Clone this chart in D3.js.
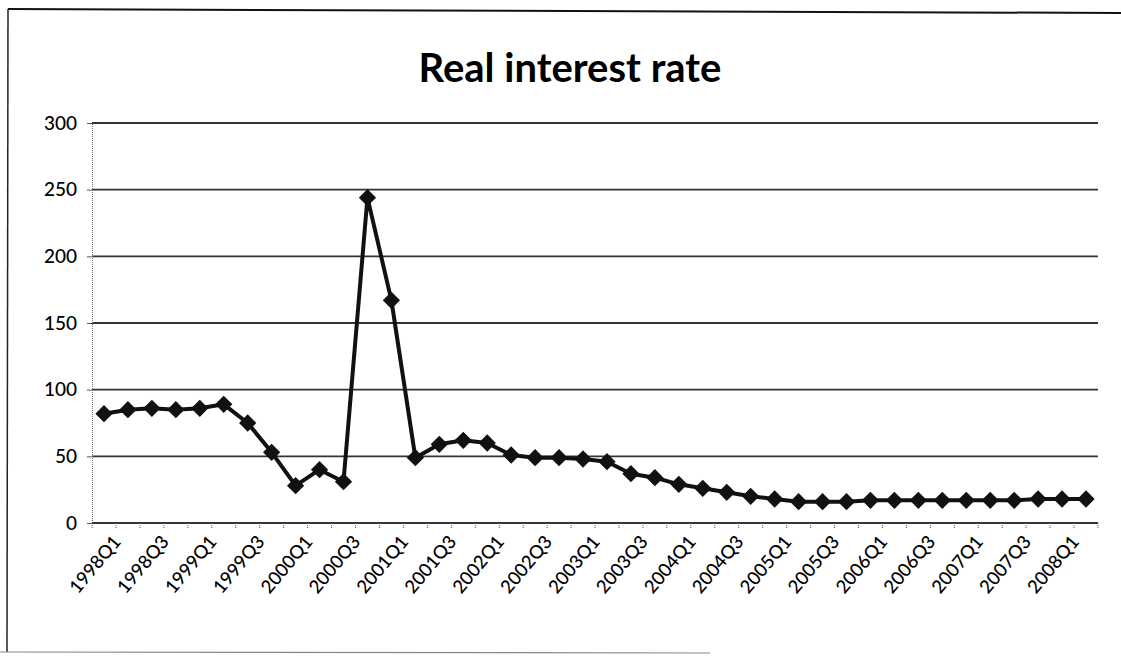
<!DOCTYPE html>
<html>
<head>
<meta charset="utf-8">
<script src="https://cdn.jsdelivr.net/npm/d3@7"></script>
<style>
  body { margin: 0; background: #fff; }
  svg { display: block; }
</style>
</head>
<body>
<script>
// quarterly categories 1998Q1 .. 2008Q2
var quarters = [
  "1998Q1","1998Q2","1998Q3","1998Q4",
  "1999Q1","1999Q2","1999Q3","1999Q4",
  "2000Q1","2000Q2","2000Q3","2000Q4",
  "2001Q1","2001Q2","2001Q3","2001Q4",
  "2002Q1","2002Q2","2002Q3","2002Q4",
  "2003Q1","2003Q2","2003Q3","2003Q4",
  "2004Q1","2004Q2","2004Q3","2004Q4",
  "2005Q1","2005Q2","2005Q3","2005Q4",
  "2006Q1","2006Q2","2006Q3","2006Q4",
  "2007Q1","2007Q2","2007Q3","2007Q4",
  "2008Q1","2008Q2"
];

// values
var rates = [
  82, 85, 86, 85,
  86, 89, 75, 53,
  28, 40, 31, 244,
  167, 49, 59, 62,
  60, 51, 49, 49,
  48, 46, 37, 34,
  29, 26, 23, 20,
  18, 16, 16, 16,
  17, 17, 17, 17,
  17, 17, 17, 18,
  18, 18
];

var yTicks = [0, 50, 100, 150, 200, 250, 300];
var title = "Real interest rate";

var W = 1121, H = 659;
var margin = {top: 123, right: 23, bottom: 136, left: 92},
    width = W - margin.left - margin.right,
    height = H - margin.top - margin.bottom;

var svg = d3.select("body").append("svg")
    .attr("width", W)
    .attr("height", H);

// outer frame
svg.append("line").attr("x1", 8).attr("y1", 9).attr("x2", W).attr("y2", 13)
    .attr("stroke", "#111").attr("stroke-width", 2);
svg.append("line").attr("x1", 8).attr("y1", 9).attr("x2", 7).attr("y2", 652)
    .attr("stroke", "#222").attr("stroke-width", 1.5);
svg.append("line").attr("x1", 0).attr("y1", 652).attr("x2", 710).attr("y2", 653)
    .attr("stroke", "#888").attr("stroke-width", 1.2);

svg.append("text")
    .attr("x", 570)
    .attr("y", 82)
    .attr("text-anchor", "middle")
    .style("font-family", "Lato, 'Open Sans', sans-serif")
    .style("font-weight", "bold")
    .style("font-size", "40px")
    .style("fill", "#000")
    .text(title);

var g = svg.append("g")
    .attr("transform", "translate(" + margin.left + "," + margin.top + ")");

var x = d3.scaleBand().domain(quarters).range([0, width]);
var y = d3.scaleLinear().domain([0, 300]).range([height, 0]);

// horizontal gridlines
g.selectAll(".grid").data(yTicks.slice(1)).enter().append("line")
    .attr("class", "grid")
    .attr("x1", 0).attr("x2", width)
    .attr("y1", function (d) { return y(d); })
    .attr("y2", function (d) { return y(d); })
    .attr("stroke", "#333")
    .attr("stroke-width", 1.8);

// y axis
var yAxis = g.append("g")
    .call(d3.axisLeft(y).tickValues(yTicks).tickSize(5).tickPadding(10));
yAxis.select(".domain").attr("stroke", "#777").attr("stroke-dasharray", "1,1");
yAxis.selectAll(".tick line").attr("stroke", "#555");
yAxis.selectAll("text")
    .style("font-family", "Lato, 'Open Sans', sans-serif")
    .style("font-size", "19px")
    .style("font-weight", "500")
    .style("fill", "#000");

// x axis: ticks at category boundaries
var xAxis = g.append("g").attr("transform", "translate(0," + height + ")");
xAxis.append("line")
    .attr("x1", 0).attr("x2", width)
    .attr("stroke", "#333").attr("stroke-width", 1.8);
var edges = quarters.map(function (q) { return x(q); }).concat([width]);
xAxis.selectAll(".tk").data(edges).enter().append("line")
    .attr("class", "tk")
    .attr("x1", function (d) { return d; })
    .attr("x2", function (d) { return d; })
    .attr("y1", 0).attr("y2", 6)
    .attr("stroke", "#555")
    .attr("stroke-dasharray", "1,1");

var labelled = quarters.filter(function (q, i) { return i % 2 === 0; });
xAxis.selectAll(".xl").data(labelled).enter().append("text")
    .attr("class", "xl")
    .attr("transform", function (d) {
        return "translate(" + (x(d) + x.bandwidth() / 2 + 13) + ",15) rotate(-50)";
    })
    .attr("text-anchor", "end")
    .attr("dy", "0.35em")
    .style("font-family", "Lato, 'Open Sans', sans-serif")
    .style("font-size", "18.5px")
    .style("font-weight", "500")
    .style("fill", "#000")
    .text(function (d) { return d; });

// series line
var line = d3.line()
    .x(function (d, i) { return x(quarters[i]) + x.bandwidth() / 2; })
    .y(function (d) { return y(d); });

g.append("path")
    .datum(rates)
    .attr("fill", "none")
    .attr("stroke", "#111")
    .attr("stroke-width", 4)
    .attr("stroke-linejoin", "round")
    .attr("d", line);

// diamond markers
var diamond = d3.symbol().type(d3.symbolDiamond2).size(190);
g.selectAll(".mk").data(rates).enter().append("path")
    .attr("class", "mk")
    .attr("transform", function (d, i) {
        return "translate(" + (x(quarters[i]) + x.bandwidth() / 2) + "," + y(d) + ")";
    })
    .attr("d", diamond)
    .attr("fill", "#111");
</script>
</body>
</html>
